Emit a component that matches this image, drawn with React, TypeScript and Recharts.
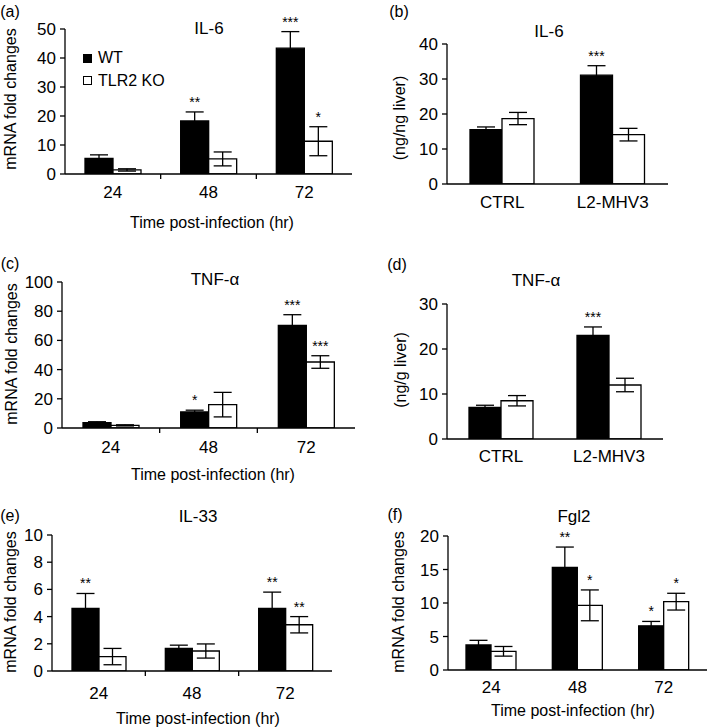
import React from "react";
import { BarChart, Bar, XAxis, YAxis, ErrorBar, LabelList, Legend } from "recharts";

// categories
const hours = ["24", "48", "72"];
const treatments = ["CTRL", "L2-MHV3"];
const seriesNames = ["WT", "TLR2 KO"];

// (a) IL-6 mRNA
const il6MrnaWt = [5.4, 18.3, 43.4];
const il6MrnaWtErr = [1.2, 3.1, 5.7];
const il6MrnaWtSig = ["", "**", "***"];
const il6MrnaKo = [1.4, 5.2, 11.3];
const il6MrnaKoErr = [0.4, 2.4, 5.0];
const il6MrnaKoSig = ["", "", "*"];

// (b) IL-6 protein
const il6ProtWt = [15.5, 31.1];
const il6ProtWtErr = [0.8, 2.7];
const il6ProtWtSig = ["", "***"];
const il6ProtKo = [18.7, 14.1];
const il6ProtKoErr = [1.75, 1.8];
const il6ProtKoSig = ["", ""];

// (c) TNF-a mRNA
const tnfMrnaWt = [3.6, 11.0, 70.3];
const tnfMrnaWtErr = [0.7, 1.2, 7.3];
const tnfMrnaWtSig = ["", "*", "***"];
const tnfMrnaKo = [1.8, 16.0, 45.2];
const tnfMrnaKoErr = [0.4, 8.4, 4.3];
const tnfMrnaKoSig = ["", "", "***"];

// (d) TNF-a protein
const tnfProtWt = [7.05, 23.0];
const tnfProtWtErr = [0.45, 1.9];
const tnfProtWtSig = ["", "***"];
const tnfProtKo = [8.5, 12.0];
const tnfProtKoErr = [1.15, 1.5];
const tnfProtKoSig = ["", ""];

// (e) IL-33 mRNA
const il33Wt = [4.6, 1.67, 4.6];
const il33WtErr = [1.1, 0.23, 1.2];
const il33WtSig = ["**", "", "**"];
const il33Ko = [1.06, 1.47, 3.4];
const il33KoErr = [0.6, 0.52, 0.6];
const il33KoSig = ["", "", "**"];

// (f) Fgl2 mRNA
const fgl2Wt = [3.73, 15.3, 6.6];
const fgl2WtErr = [0.7, 3.05, 0.65];
const fgl2WtSig = ["", "**", "*"];
const fgl2Ko = [2.79, 9.65, 10.2];
const fgl2KoErr = [0.72, 2.3, 1.25];
const fgl2KoSig = ["", "*", "*"];

// axis ticks
const ticksA = [0, 10, 20, 30, 40, 50];
const ticksB = [0, 10, 20, 30, 40];
const ticksC = [0, 20, 40, 60, 80, 100];
const ticksD = [0, 10, 20, 30];
const ticksE = [0, 2, 4, 6, 8, 10];
const ticksF = [0, 5, 10, 15, 20];

const panelLetters = ["(a)", "(b)", "(c)", "(d)", "(e)", "(f)"];
const panelTitles = ["IL-6", "IL-6", "TNF-α", "TNF-α", "IL-33", "Fgl2"];
const yTitles = [
  "mRNA fold changes",
  "(ng/ng liver)",
  "mRNA fold changes",
  "(ng/g liver)",
  "mRNA fold changes",
  "mRNA fold changes",
];
const xTitle = "Time post-infection (hr)";

const buildRows = (
  cats: string[],
  wt: number[], wtErr: number[], wtSig: string[],
  ko: number[], koErr: number[], koSig: string[]
) =>
  cats.map((name, i) => ({
    name,
    wt: wt[i], wtErr: wtErr[i], wtSig: wtSig[i],
    ko: ko[i], koErr: koErr[i], koSig: koSig[i],
  }));

const panels = [
  {
    data: buildRows(hours, il6MrnaWt, il6MrnaWtErr, il6MrnaWtSig, il6MrnaKo, il6MrnaKoErr, il6MrnaKoSig),
    ticks: ticksA, legend: true,
    box: { left: 0, top: 0, width: 360, height: 240, px: 65, py: 29, pw: 287, ph: 145 },
    barSize: 28, labelDy: 24, dividers: true,
    letter: [10, 12], title: [209, 28], yTitle: [11, 99], xTitle: [212, 223],
  },
  {
    data: buildRows(treatments, il6ProtWt, il6ProtWtErr, il6ProtWtSig, il6ProtKo, il6ProtKoErr, il6ProtKoSig),
    ticks: ticksB, legend: false,
    box: { left: 360, top: 0, width: 349, height: 240, px: 87, py: 44, pw: 221, ph: 140 },
    barSize: 32, labelDy: 24, dividers: false,
    letter: [399, 12], title: [549, 31], yTitle: [400, 118], xTitle: null,
  },
  {
    data: buildRows(hours, tnfMrnaWt, tnfMrnaWtErr, tnfMrnaWtSig, tnfMrnaKo, tnfMrnaKoErr, tnfMrnaKoSig),
    ticks: ticksC, legend: false,
    box: { left: 0, top: 240, width: 360, height: 240, px: 62, py: 42, pw: 293, ph: 146 },
    barSize: 28, labelDy: 25, dividers: true,
    letter: [10, 264], title: [215, 279], yTitle: [12, 354], xTitle: [213, 475],
  },
  {
    data: buildRows(treatments, tnfProtWt, tnfProtWtErr, tnfProtWtSig, tnfProtKo, tnfProtKoErr, tnfProtKoSig),
    ticks: ticksD, legend: false,
    box: { left: 360, top: 240, width: 349, height: 240, px: 87, py: 64, pw: 216, ph: 135 },
    barSize: 32, labelDy: 23, dividers: false,
    letter: [397, 265], title: [536, 280], yTitle: [401, 370], xTitle: null,
  },
  {
    data: buildRows(hours, il33Wt, il33WtErr, il33WtSig, il33Ko, il33KoErr, il33KoSig),
    ticks: ticksE, legend: false,
    box: { left: 0, top: 480, width: 360, height: 248, px: 52, py: 55, pw: 280, ph: 136 },
    barSize: 27, labelDy: 28, dividers: true,
    letter: [10, 516], title: [198, 516], yTitle: [11, 602], xTitle: [198, 719],
  },
  {
    data: buildRows(hours, fgl2Wt, fgl2WtErr, fgl2WtSig, fgl2Ko, fgl2KoErr, fgl2KoSig),
    ticks: ticksF, legend: false,
    box: { left: 360, top: 480, width: 349, height: 248, px: 88, py: 56, pw: 259, ph: 134 },
    barSize: 25, labelDy: 23, dividers: false,
    letter: [395, 515], title: [574, 516], yTitle: [399, 602], xTitle: [573, 711],
  },
];

const LINE = 1.3;

// stars sit above the error bar; value is "sig|err|mean"
const renderStars = (props: any) => {
  const [sig, err, mean] = String(props.value).split("|");
  if (!sig) return null;
  const vb = props.viewBox || props;
  const pxPerUnit = vb.height / Number(mean);
  const errTop = vb.y - Number(err) * pxPerUnit;
  return (
    <text x={vb.x + vb.width / 2} y={errTop - 5} textAnchor="middle" fontSize={14} fill="#000">
      {sig}
    </text>
  );
};

const makeTick = (labelDy: number, halfBand: number, dividers: boolean, count: number) =>
  (props: any) => {
    const { x, y, payload, index } = props;
    return (
      <g>
        <text x={x} y={y + labelDy} textAnchor="middle" fontSize={17} fill="#000">
          {payload.value}
        </text>
        {dividers && index < count - 1 && (
          <line x1={x + halfBand} x2={x + halfBand} y1={y} y2={y + 5} stroke="#000" strokeWidth={LINE} />
        )}
      </g>
    );
  };

// keep WT on top regardless of the legend's own sorting
const renderLegend = (props: any) => {
  const items = [...(props.payload || [])].sort(
    (a: any, b: any) => seriesNames.indexOf(a.value) - seriesNames.indexOf(b.value)
  );
  return (
    <div style={{ fontSize: 16, lineHeight: "22.5px", color: "#000" }}>
      {items.map((entry: any) => (
        <div key={entry.value} style={{ display: "flex", alignItems: "center" }}>
          <span
            style={{
              display: "inline-block",
              boxSizing: "border-box",
              width: 9,
              height: 9,
              background: entry.payload?.fill ?? entry.color,
              border: "1.3px solid #000",
              marginRight: 6,
            }}
          />
          {entry.value}
        </div>
      ))}
    </div>
  );
};

function Note({ at, size = 16, rotate = false, children }: any) {
  return (
    <div
      style={{
        position: "absolute",
        left: at[0],
        top: at[1],
        transform: `translate(-50%, -50%)${rotate ? " rotate(-90deg)" : ""}`,
        fontSize: size,
        lineHeight: 1,
        whiteSpace: "nowrap",
        color: "#000",
      }}
    >
      {children}
    </div>
  );
}

function Panel({ p }: any) {
  const b = p.box;
  const n = p.data.length;
  const max = p.ticks[p.ticks.length - 1];
  return (
    <div style={{ position: "absolute", left: b.left, top: b.top }}>
      <BarChart
        width={b.width}
        height={b.height}
        data={p.data}
        margin={{ top: b.py, right: b.width - b.px - b.pw, left: 0, bottom: 0 }}
        barGap={0}
        barSize={p.barSize}
      >
        <XAxis
          dataKey="name"
          height={b.height - b.py - b.ph}
          axisLine={{ stroke: "#000", strokeWidth: LINE }}
          tickLine={false}
          tickSize={0}
          tickMargin={0}
          interval={0}
          tick={makeTick(p.labelDy, b.pw / n / 2, p.dividers, n)}
        />
        <YAxis
          width={b.px}
          domain={[0, max]}
          ticks={p.ticks}
          allowDataOverflow
          axisLine={{ stroke: "#000", strokeWidth: LINE }}
          tickLine={{ stroke: "#000", strokeWidth: LINE }}
          tickSize={5}
          tickMargin={4}
          tick={{ fontSize: 17, fill: "#000" }}
        />
        {p.legend && (
          <Legend
            layout="vertical"
            align="center"
            verticalAlign="middle"
            content={renderLegend}
            wrapperStyle={{ left: 83, top: 47 }}
          />
        )}
        <Bar dataKey="wt" name={seriesNames[0]} fill="#000" stroke="#000" strokeWidth={LINE} isAnimationActive={false}>
          <ErrorBar dataKey="wtErr" width={9} stroke="#000" strokeWidth={LINE} isAnimationActive={false} />
          <LabelList dataKey={(r: any) => `${r.wtSig}|${r.wtErr}|${r.wt}`} content={renderStars} />
        </Bar>
        <Bar dataKey="ko" name={seriesNames[1]} fill="#fff" stroke="#000" strokeWidth={LINE} isAnimationActive={false}>
          <ErrorBar dataKey="koErr" width={9} stroke="#000" strokeWidth={LINE} isAnimationActive={false} />
          <LabelList dataKey={(r: any) => `${r.koSig}|${r.koErr}|${r.ko}`} content={renderStars} />
        </Bar>
      </BarChart>
    </div>
  );
}

export default function App() {
  return (
    <div
      style={{
        position: "absolute",
        left: 0,
        top: 0,
        width: 709,
        height: 728,
        background: "#fff",
        fontFamily: '"Liberation Sans", Arial, sans-serif',
        overflow: "hidden",
      }}
    >
      {panels.map((p, i) => (
        <React.Fragment key={panelLetters[i]}>
          <Panel p={p} />
          <Note at={p.letter}>{panelLetters[i]}</Note>
          <Note at={p.title} size={17}>{panelTitles[i]}</Note>
          <Note at={p.yTitle} rotate>{yTitles[i]}</Note>
          {p.xTitle && <Note at={p.xTitle}>{xTitle}</Note>}
        </React.Fragment>
      ))}
    </div>
  );
}
